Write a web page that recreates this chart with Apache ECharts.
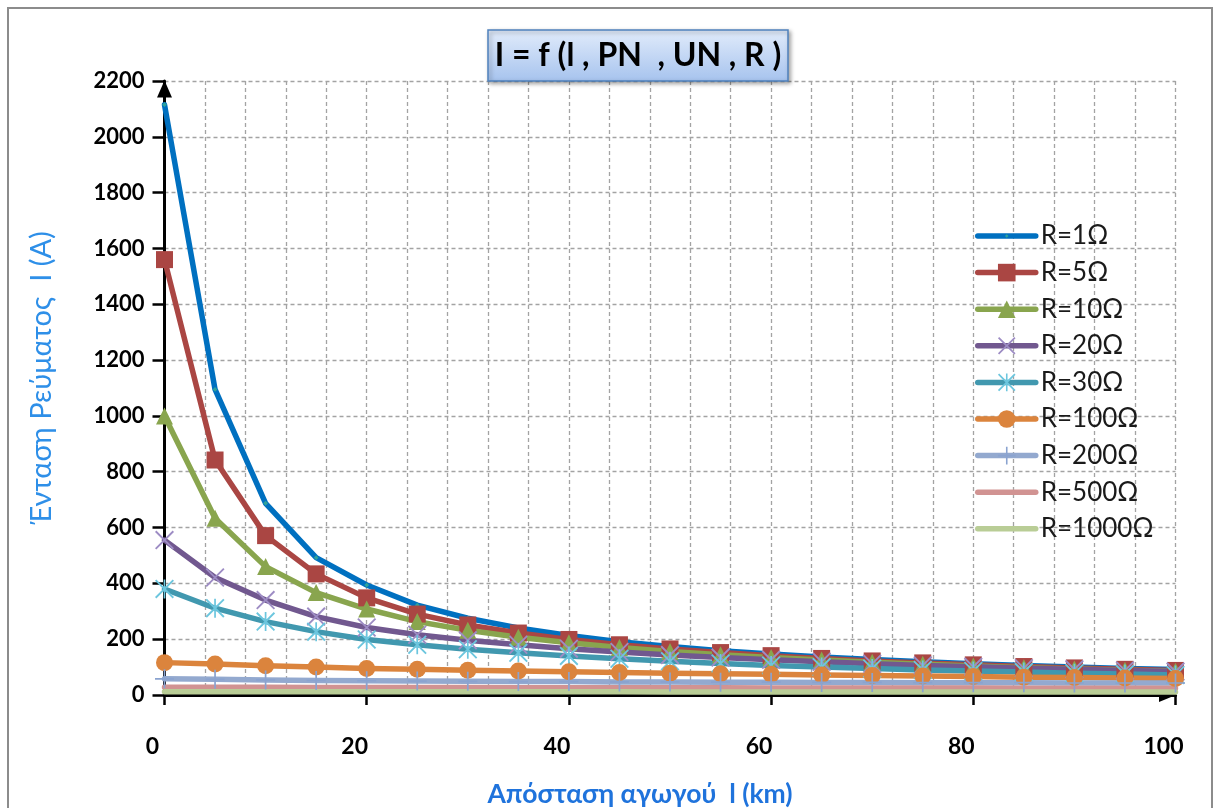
<!DOCTYPE html>
<html>
<head>
<meta charset="utf-8">
<script src="https://cdn.jsdelivr.net/npm/echarts@6/dist/echarts.min.js"></script>
<style>
  html, body { margin: 0; padding: 0; background: #ffffff; }
  #chart { width: 1220px; height: 808px; }
</style>
</head>
<body>
<div id="chart"></div>
<script>
// Line length l (km) at which the current was evaluated
const distanceKm = [0, 5, 10, 15, 20, 25, 30, 35, 40, 45, 50, 55, 60, 65, 70, 75, 80, 85, 90, 95, 100];

// Current I (A) for each load resistance R
const currentR1    = [2115, 1095, 687, 492, 394, 322, 275, 240, 213, 191, 174, 159, 147, 136, 127, 119, 112, 106, 100, 95, 91];
const currentR5    = [1560, 842, 571, 434, 348, 290, 251, 222, 199, 180, 165, 152, 141, 131, 122, 115, 108, 102, 97, 92, 88];
const currentR10   = [1000, 633, 460, 367, 308, 263, 232, 207, 187, 170, 156, 144, 134, 125, 117, 110, 104, 98, 93, 89, 85];
const currentR20   = [555, 421, 340, 281, 242, 216, 196, 180, 166, 154, 143, 134, 126, 119, 112, 106, 101, 96, 92, 88, 84];
const currentR30   = [380, 311, 263, 227, 199, 180, 164, 151, 140, 130, 121, 113, 106, 100, 95, 90, 86, 82, 78, 75, 72];
const currentR100  = [116, 111, 105, 100, 95, 92, 89, 86, 83, 81, 78, 76, 74, 72, 70, 68, 66, 64, 63, 61, 59];
const currentR200  = [58, 56, 54, 52, 51, 50, 49, 48, 48, 47, 47, 46, 46, 45, 45, 44, 44, 44, 43, 43, 43];
const currentR500  = [28, 28, 28, 27, 27, 27, 27, 26, 26, 26, 26, 26, 25, 25, 25, 25, 25, 24, 24, 24, 24];
const currentR1000 = [12, 12, 12, 12, 12, 12, 12, 12, 12, 12, 11, 11, 11, 11, 11, 11, 11, 11, 11, 11, 11];

const seriesNames = ['R=1Ω', 'R=5Ω', 'R=10Ω', 'R=20Ω', 'R=30Ω', 'R=100Ω', 'R=200Ω', 'R=500Ω', 'R=1000Ω'];

// Axis ranges and tick steps
const xAxisMin = 0, xAxisMax = 100, xAxisStep = 20;
const yAxisMin = 0, yAxisMax = 2200, yAxisStep = 200;

const chartTitle = 'I = f (l , PN  , UN , R )';
const xAxisTitle = 'Απόσταση αγωγού  l (km)';
const yAxisTitle = 'Ένταση Ρεύματος  I (A)';

// Marker shapes. The thin ones are made of narrow filled bars; the small
// diamond sits inside a wider box (two specks at the corners) so it stays small.
const SYM_DOT = 'path://M0,0 L0.02,0 L0,0.02 Z M20,20 L19.98,20 L20,19.98 Z M10,8 L12,10 L10,12 L8,10 Z';
const SYM_CROSS = 'path://M0,0.7 L0.7,0 L10,9.3 L9.3,10 Z M9.3,0 L10,0.7 L0.7,10 L0,9.3 Z';
const SYM_STAR = 'path://M0,0.7 L0.7,0 L10,9.3 L9.3,10 Z M9.3,0 L10,0.7 L0.7,10 L0,9.3 Z M4.55,0 L5.45,0 L5.45,10 L4.55,10 Z';
const SYM_PLUS = 'path://M4.55,0 L5.45,0 L5.45,10 L4.55,10 Z M0,4.55 L10,4.55 L10,5.45 L0,5.45 Z';

const pairUp = (ys) => distanceKm.map((x, i) => [x, ys[i]]);

const styles = [
  { data: currentR1,    line: '#0070C0', symbol: SYM_DOT,    size: 24, mark: '#2fa39a', show: true },
  { data: currentR5,    line: '#AA4643', symbol: 'rect',     size: 17, mark: '#AA4643', show: true },
  { data: currentR10,   line: '#89A54E', symbol: 'triangle', size: 17, mark: '#89A54E', show: true },
  { data: currentR20,   line: '#71588F', symbol: SYM_CROSS,  size: 19, mark: '#9d8cc4', show: true },
  { data: currentR30,   line: '#4198AF', symbol: SYM_STAR,   size: 19, mark: '#6cc6de', show: true },
  { data: currentR100,  line: '#DB843D', symbol: 'circle',   size: 17, mark: '#DB843D', show: true },
  { data: currentR200,  line: '#93A9CF', symbol: SYM_PLUS,   size: 19, mark: '#8aa3d0', show: true },
  { data: currentR500,  line: '#D19392', symbol: 'line',     size: 10, mark: '#D19392', show: false },
  { data: currentR1000, line: '#B9CD96', symbol: 'line',     size: 10, mark: '#B9CD96', show: false }
];

const gridDash = { type: [4, 3], color: '#a3a3a3', width: 1.3 };
const FONT = 'Lato, "Open Sans", "DejaVu Sans", sans-serif';

const chart = echarts.init(document.getElementById('chart'), null, { renderer: 'canvas' });

chart.setOption({
  backgroundColor: '#ffffff',
  animation: false,
  grid: { left: 164.5, right: 44.5, top: 81, bottom: 113, containLabel: false },
  xAxis: {
    type: 'value',
    min: xAxisMin, max: xAxisMax, interval: xAxisStep,
    axisLine: {
      show: true, onZero: false,
      lineStyle: { color: '#000', width: 3 },
      symbol: ['none', 'triangle'], symbolSize: [14, 17], symbolOffset: [0, -8]
    },
    axisTick: { show: true, length: 10, lineStyle: { color: '#000', width: 2.5 } },
    minorTick: { show: false, splitNumber: 5 },
    splitLine: { show: true, lineStyle: gridDash },
    minorSplitLine: { show: true, lineStyle: gridDash },
    axisLabel: {
      margin: 40, color: '#000', fontFamily: FONT, fontWeight: 'bold', fontSize: 23,
      padding: [0, 24, 0, 0]
    }
  },
  yAxis: {
    type: 'value',
    min: yAxisMin, max: yAxisMax, interval: yAxisStep,
    axisLine: {
      show: true, onZero: false,
      lineStyle: { color: '#000', width: 3 },
      symbol: ['none', 'triangle'], symbolSize: [15, 17], symbolOffset: [0, -8]
    },
    axisTick: { show: true, length: 12, lineStyle: { color: '#000', width: 2.5 } },
    splitLine: { show: true, lineStyle: gridDash },
    axisLabel: {
      margin: 20, color: '#000', fontFamily: FONT, fontWeight: 'bold', fontSize: 22,
      formatter: (v) => String(v)
    }
  },
  legend: {
    orient: 'vertical',
    left: 975, top: 223, padding: 0,
    itemWidth: 58, itemHeight: 22, itemGap: 10.6,
    lineStyle: { width: 5.5, cap: 'round' },
    textStyle: { fontFamily: FONT, fontSize: 26, color: '#1a1a1a', lineHeight: 26 },
    data: seriesNames
  },
  series: styles.map((s, i) => ({
    name: seriesNames[i],
    type: 'line',
    data: pairUp(s.data),
    clip: false,
    smooth: false,
    showSymbol: s.show,
    symbol: s.symbol,
    symbolSize: s.size,
    lineStyle: { color: s.line, width: 5.5, cap: 'round', join: 'round' },
    itemStyle: { color: s.mark, borderWidth: 0 },
    emphasis: { disabled: true }
  })),
  graphic: [
    {
      type: 'rect', z: 0, silent: true,
      shape: { x: 8, y: 8, width: 1204, height: 840 },
      style: { fill: 'none', stroke: '#8c8c8c', lineWidth: 2 }
    },
    {
      type: 'rect', z: 100, silent: true,
      shape: { x: 488, y: 30, width: 300, height: 51 },
      style: {
        fill: new echarts.graphic.LinearGradient(0, 0, 0, 1, [
          { offset: 0, color: '#e2ecfb' },
          { offset: 1, color: '#a6c3ee' }
        ]),
        stroke: '#4f81bd', lineWidth: 1.5,
        shadowBlur: 4, shadowOffsetX: 2, shadowOffsetY: 2, shadowColor: 'rgba(0,0,0,0.35)'
      }
    },
    {
      type: 'text', z: 101, silent: true,
      x: 638, y: 56,
      style: {
        text: chartTitle, fill: '#000', align: 'center', verticalAlign: 'middle',
        fontFamily: FONT, fontWeight: 'bold', fontSize: 32
      }
    },
    {
      type: 'text', z: 101, silent: true,
      x: 640, y: 794,
      style: {
        text: xAxisTitle, fill: '#1f73dc', align: 'center', verticalAlign: 'middle',
        fontFamily: FONT, fontWeight: 'bold', fontSize: 26.5
      }
    },
    {
      type: 'text', z: 101, silent: true,
      x: 42, y: 378, rotation: Math.PI / 2,
      style: {
        text: yAxisTitle, fill: '#2e8fe8', align: 'center', verticalAlign: 'middle',
        fontFamily: FONT, fontSize: 29
      }
    }
  ]
});
</script>
</body>
</html>
